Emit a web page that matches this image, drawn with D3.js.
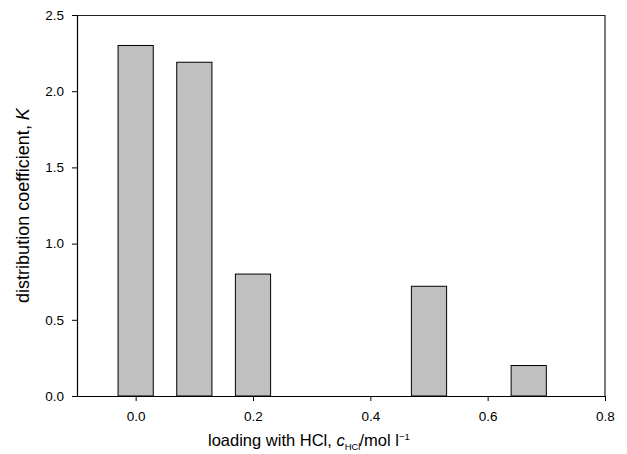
<!DOCTYPE html>
<html>
<head>
<meta charset="utf-8">
<script src="https://cdn.jsdelivr.net/npm/d3@7"></script>
<style>
  body { margin: 0; background: #fff; }
  text { font-family: "Liberation Sans", Arial, sans-serif; fill: #000; }
</style>
</head>
<body>
<div id="chart"></div>
<script>
// data
const loadings = [0.0, 0.1, 0.2, 0.5, 0.67];
const kValues = [2.30, 2.19, 0.80, 0.72, 0.20];
const xTicks = [0.0, 0.2, 0.4, 0.6, 0.8];
const yTicks = [0.0, 0.5, 1.0, 1.5, 2.0, 2.5];
const barWidth = 0.06;

const W = 627, H = 454;
const margin = { top: 15, right: 22, bottom: 58, left: 77 },
  width = W - margin.left - margin.right,
  height = H - margin.top - margin.bottom;

const svg = d3.select("#chart")
  .append("svg")
  .attr("width", W)
  .attr("height", H)
  .append("g")
  .attr("transform", `translate(${margin.left}, ${margin.top})`);

const xScale = d3.scaleLinear().domain([-0.1, 0.8]).range([0, width]);
const yScale = d3.scaleLinear().domain([0, 2.5]).range([height, 0]);

// bars
svg.selectAll("rect.bar")
  .data(loadings)
  .enter()
  .append("rect")
  .attr("class", "bar")
  .attr("x", (d) => xScale(d - barWidth / 2))
  .attr("width", (d) => xScale(d + barWidth / 2) - xScale(d - barWidth / 2))
  .attr("y", (d, i) => yScale(kValues[i]))
  .attr("height", (d, i) => yScale(0) - yScale(kValues[i]))
  .style("fill", "#c0c0c0")
  .style("stroke", "#000")
  .style("stroke-width", 1);

// frame (top and right)
svg.append("path")
  .attr("d", `M0,0.5H${width}V${height}`)
  .style("fill", "none")
  .style("stroke", "#222")
  .style("stroke-width", 1.2);

const xAxis = d3.axisBottom(xScale)
  .tickValues(xTicks)
  .tickFormat(d3.format(".1f"))
  .tickSize(5)
  .tickPadding(10)
  .tickSizeOuter(0);

const yAxis = d3.axisLeft(yScale)
  .tickValues(yTicks)
  .tickFormat(d3.format(".1f"))
  .tickSize(5)
  .tickPadding(8)
  .tickSizeOuter(0);

const gx = svg.append("g")
  .attr("transform", `translate(0, ${height})`)
  .call(xAxis);

const gy = svg.append("g")
  .call(yAxis);

[gx, gy].forEach(g => {
  g.select(".domain").style("stroke", "#000").style("stroke-width", 1.2);
  g.selectAll(".tick line").style("stroke", "#000");
  g.selectAll(".tick text")
    .style("font-family", '"Liberation Sans", Arial, sans-serif')
    .style("font-size", "13.5px")
    .style("fill", "#000");
});

// y axis title
const yLabel = svg.append("text")
  .attr("transform", `translate(${29 - margin.left}, ${height / 2}) rotate(-90)`)
  .attr("text-anchor", "middle")
  .style("font-size", "18px");
yLabel.append("tspan").text("distribution coefficient, ");
yLabel.append("tspan").style("font-style", "italic").text("K");

// x axis title
const xLabel = svg.append("text")
  .attr("x", 208 - margin.left)
  .attr("y", height + 50)
  .attr("text-anchor", "start")
  .style("font-size", "16.5px");
xLabel.append("tspan").text("loading with HCl, ");
xLabel.append("tspan").style("font-style", "italic").text("c");
xLabel.append("tspan").attr("dy", 4).style("font-size", "9.5px").text("HCl");
xLabel.append("tspan").attr("dy", -4).attr("dx", -1).text("/mol l");
xLabel.append("tspan").attr("dy", -6).style("font-size", "9.5px").text("\u22121");
</script>
</body>
</html>
